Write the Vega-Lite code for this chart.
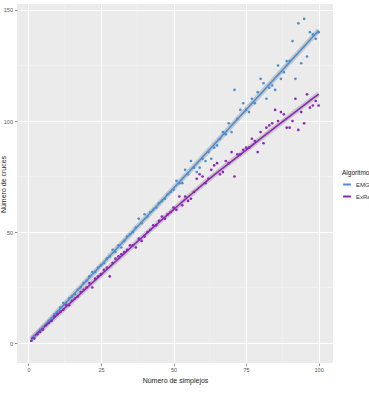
{
  "$schema": "https://vega.github.io/schema/vega-lite/v6.json",
  "width": 316,
  "height": 359,
  "autosize": "none",
  "padding": {"left": 17, "top": 4, "right": 36, "bottom": 31},
  "background": "white",
  "config": {
    "view": {"fill": "#ebebeb", "stroke": null},
    "font": "Liberation Sans",
    "axis": {
      "domain": false,
      "grid": true,
      "gridColor": "white",
      "gridWidth": 1,
      "tickColor": "#444444",
      "tickSize": 2.5,
      "tickWidth": 0.6,
      "labelColor": "#555555",
      "labelFontSize": 5.5,
      "labelPadding": 2,
      "titleFontSize": 7,
      "titleFontWeight": "normal",
      "titleColor": "#222222"
    },
    "legend": {
      "titleFontSize": 6.5,
      "titleFontWeight": "normal",
      "labelFontSize": 6,
      "titleColor": "#222222",
      "labelColor": "#333333"
    }
  },
  "datasets": {
    "pts": [
      {"n":1,"cruces":1,"alg":"EMG"},{"n":2,"cruces":3,"alg":"EMG"},{"n":3,"cruces":4,"alg":"EMG"},{"n":4,"cruces":6,"alg":"EMG"},{"n":5,"cruces":7,"alg":"EMG"},
      {"n":6,"cruces":8,"alg":"EMG"},{"n":7,"cruces":10,"alg":"EMG"},{"n":8,"cruces":11,"alg":"EMG"},{"n":9,"cruces":13,"alg":"EMG"},{"n":10,"cruces":14,"alg":"EMG"},
      {"n":11,"cruces":16,"alg":"EMG"},{"n":12,"cruces":18,"alg":"EMG"},{"n":13,"cruces":18,"alg":"EMG"},{"n":14,"cruces":20,"alg":"EMG"},{"n":15,"cruces":21,"alg":"EMG"},
      {"n":16,"cruces":22,"alg":"EMG"},{"n":17,"cruces":24,"alg":"EMG"},{"n":18,"cruces":25,"alg":"EMG"},{"n":19,"cruces":27,"alg":"EMG"},{"n":20,"cruces":28,"alg":"EMG"},
      {"n":21,"cruces":30,"alg":"EMG"},{"n":22,"cruces":32,"alg":"EMG"},{"n":23,"cruces":32,"alg":"EMG"},{"n":24,"cruces":34,"alg":"EMG"},{"n":25,"cruces":35,"alg":"EMG"},
      {"n":26,"cruces":36,"alg":"EMG"},{"n":27,"cruces":38,"alg":"EMG"},{"n":28,"cruces":39,"alg":"EMG"},{"n":29,"cruces":42,"alg":"EMG"},{"n":30,"cruces":41,"alg":"EMG"},
      {"n":31,"cruces":44,"alg":"EMG"},{"n":32,"cruces":43,"alg":"EMG"},{"n":33,"cruces":46,"alg":"EMG"},{"n":34,"cruces":48,"alg":"EMG"},{"n":35,"cruces":49,"alg":"EMG"},
      {"n":36,"cruces":50,"alg":"EMG"},{"n":37,"cruces":52,"alg":"EMG"},{"n":38,"cruces":56,"alg":"EMG"},{"n":39,"cruces":54,"alg":"EMG"},{"n":40,"cruces":58,"alg":"EMG"},
      {"n":41,"cruces":57,"alg":"EMG"},{"n":42,"cruces":59,"alg":"EMG"},{"n":43,"cruces":60,"alg":"EMG"},{"n":44,"cruces":61,"alg":"EMG"},{"n":45,"cruces":63,"alg":"EMG"},
      {"n":46,"cruces":64,"alg":"EMG"},{"n":47,"cruces":65,"alg":"EMG"},{"n":48,"cruces":67,"alg":"EMG"},{"n":49,"cruces":68,"alg":"EMG"},{"n":50,"cruces":69,"alg":"EMG"},
      {"n":51,"cruces":73,"alg":"EMG"},{"n":52,"cruces":72,"alg":"EMG"},{"n":53,"cruces":72,"alg":"EMG"},{"n":54,"cruces":78,"alg":"EMG"},{"n":55,"cruces":76,"alg":"EMG"},
      {"n":56,"cruces":82,"alg":"EMG"},{"n":57,"cruces":79,"alg":"EMG"},{"n":58,"cruces":77,"alg":"EMG"},{"n":59,"cruces":79,"alg":"EMG"},{"n":60,"cruces":83,"alg":"EMG"},
      {"n":61,"cruces":82,"alg":"EMG"},{"n":62,"cruces":86,"alg":"EMG"},{"n":63,"cruces":83,"alg":"EMG"},{"n":64,"cruces":88,"alg":"EMG"},{"n":65,"cruces":89,"alg":"EMG"},
      {"n":66,"cruces":92,"alg":"EMG"},{"n":67,"cruces":95,"alg":"EMG"},{"n":68,"cruces":94,"alg":"EMG"},{"n":69,"cruces":99,"alg":"EMG"},{"n":70,"cruces":95,"alg":"EMG"},
      {"n":71,"cruces":114,"alg":"EMG"},{"n":72,"cruces":101,"alg":"EMG"},{"n":73,"cruces":105,"alg":"EMG"},{"n":74,"cruces":108,"alg":"EMG"},{"n":75,"cruces":105,"alg":"EMG"},
      {"n":76,"cruces":104,"alg":"EMG"},{"n":77,"cruces":110,"alg":"EMG"},{"n":78,"cruces":108,"alg":"EMG"},{"n":79,"cruces":113,"alg":"EMG"},{"n":80,"cruces":119,"alg":"EMG"},
      {"n":81,"cruces":117,"alg":"EMG"},{"n":82,"cruces":110,"alg":"EMG"},{"n":83,"cruces":115,"alg":"EMG"},{"n":84,"cruces":116,"alg":"EMG"},{"n":85,"cruces":114,"alg":"EMG"},
      {"n":86,"cruces":125,"alg":"EMG"},{"n":87,"cruces":119,"alg":"EMG"},{"n":88,"cruces":122,"alg":"EMG"},{"n":89,"cruces":127,"alg":"EMG"},{"n":90,"cruces":127,"alg":"EMG"},
      {"n":91,"cruces":136,"alg":"EMG"},{"n":92,"cruces":119,"alg":"EMG"},{"n":93,"cruces":144,"alg":"EMG"},{"n":94,"cruces":126,"alg":"EMG"},{"n":95,"cruces":146,"alg":"EMG"},
      {"n":96,"cruces":129,"alg":"EMG"},{"n":97,"cruces":140,"alg":"EMG"},{"n":98,"cruces":139,"alg":"EMG"},{"n":99,"cruces":137,"alg":"EMG"},{"n":100,"cruces":140,"alg":"EMG"},
      {"n":1,"cruces":1,"alg":"ExRandom"},{"n":2,"cruces":2,"alg":"ExRandom"},{"n":3,"cruces":4,"alg":"ExRandom"},{"n":4,"cruces":5,"alg":"ExRandom"},{"n":5,"cruces":6,"alg":"ExRandom"},
      {"n":6,"cruces":8,"alg":"ExRandom"},{"n":7,"cruces":9,"alg":"ExRandom"},{"n":8,"cruces":10,"alg":"ExRandom"},{"n":9,"cruces":12,"alg":"ExRandom"},{"n":10,"cruces":13,"alg":"ExRandom"},
      {"n":11,"cruces":14,"alg":"ExRandom"},{"n":12,"cruces":15,"alg":"ExRandom"},{"n":13,"cruces":17,"alg":"ExRandom"},{"n":14,"cruces":17,"alg":"ExRandom"},{"n":15,"cruces":19,"alg":"ExRandom"},
      {"n":16,"cruces":20,"alg":"ExRandom"},{"n":17,"cruces":21,"alg":"ExRandom"},{"n":18,"cruces":23,"alg":"ExRandom"},{"n":19,"cruces":24,"alg":"ExRandom"},{"n":20,"cruces":25,"alg":"ExRandom"},
      {"n":21,"cruces":27,"alg":"ExRandom"},{"n":22,"cruces":25,"alg":"ExRandom"},{"n":23,"cruces":29,"alg":"ExRandom"},{"n":24,"cruces":30,"alg":"ExRandom"},{"n":25,"cruces":31,"alg":"ExRandom"},
      {"n":26,"cruces":33,"alg":"ExRandom"},{"n":27,"cruces":34,"alg":"ExRandom"},{"n":28,"cruces":30,"alg":"ExRandom"},{"n":29,"cruces":36,"alg":"ExRandom"},{"n":30,"cruces":38,"alg":"ExRandom"},
      {"n":31,"cruces":39,"alg":"ExRandom"},{"n":32,"cruces":40,"alg":"ExRandom"},{"n":33,"cruces":41,"alg":"ExRandom"},{"n":34,"cruces":42,"alg":"ExRandom"},{"n":35,"cruces":44,"alg":"ExRandom"},
      {"n":36,"cruces":44,"alg":"ExRandom"},{"n":37,"cruces":43,"alg":"ExRandom"},{"n":38,"cruces":47,"alg":"ExRandom"},{"n":39,"cruces":46,"alg":"ExRandom"},{"n":40,"cruces":48,"alg":"ExRandom"},
      {"n":41,"cruces":50,"alg":"ExRandom"},{"n":42,"cruces":51,"alg":"ExRandom"},{"n":43,"cruces":53,"alg":"ExRandom"},{"n":44,"cruces":53,"alg":"ExRandom"},{"n":45,"cruces":55,"alg":"ExRandom"},
      {"n":46,"cruces":57,"alg":"ExRandom"},{"n":47,"cruces":56,"alg":"ExRandom"},{"n":48,"cruces":58,"alg":"ExRandom"},{"n":49,"cruces":59,"alg":"ExRandom"},{"n":50,"cruces":61,"alg":"ExRandom"},
      {"n":51,"cruces":60,"alg":"ExRandom"},{"n":52,"cruces":66,"alg":"ExRandom"},{"n":53,"cruces":62,"alg":"ExRandom"},{"n":54,"cruces":66,"alg":"ExRandom"},{"n":55,"cruces":64,"alg":"ExRandom"},
      {"n":56,"cruces":65,"alg":"ExRandom"},{"n":57,"cruces":68,"alg":"ExRandom"},{"n":58,"cruces":74,"alg":"ExRandom"},{"n":59,"cruces":76,"alg":"ExRandom"},{"n":60,"cruces":75,"alg":"ExRandom"},
      {"n":61,"cruces":72,"alg":"ExRandom"},{"n":62,"cruces":74,"alg":"ExRandom"},{"n":63,"cruces":78,"alg":"ExRandom"},{"n":64,"cruces":80,"alg":"ExRandom"},{"n":65,"cruces":81,"alg":"ExRandom"},
      {"n":66,"cruces":76,"alg":"ExRandom"},{"n":67,"cruces":77,"alg":"ExRandom"},{"n":68,"cruces":82,"alg":"ExRandom"},{"n":69,"cruces":81,"alg":"ExRandom"},{"n":70,"cruces":86,"alg":"ExRandom"},
      {"n":71,"cruces":75,"alg":"ExRandom"},{"n":72,"cruces":85,"alg":"ExRandom"},{"n":73,"cruces":85,"alg":"ExRandom"},{"n":74,"cruces":87,"alg":"ExRandom"},{"n":75,"cruces":88,"alg":"ExRandom"},
      {"n":76,"cruces":88,"alg":"ExRandom"},{"n":77,"cruces":92,"alg":"ExRandom"},{"n":78,"cruces":91,"alg":"ExRandom"},{"n":79,"cruces":86,"alg":"ExRandom"},{"n":80,"cruces":95,"alg":"ExRandom"},
      {"n":81,"cruces":90,"alg":"ExRandom"},{"n":82,"cruces":97,"alg":"ExRandom"},{"n":83,"cruces":98,"alg":"ExRandom"},{"n":84,"cruces":99,"alg":"ExRandom"},{"n":85,"cruces":105,"alg":"ExRandom"},
      {"n":86,"cruces":100,"alg":"ExRandom"},{"n":87,"cruces":104,"alg":"ExRandom"},{"n":88,"cruces":103,"alg":"ExRandom"},{"n":89,"cruces":97,"alg":"ExRandom"},{"n":90,"cruces":97,"alg":"ExRandom"},
      {"n":91,"cruces":100,"alg":"ExRandom"},{"n":92,"cruces":110,"alg":"ExRandom"},{"n":93,"cruces":96,"alg":"ExRandom"},{"n":94,"cruces":104,"alg":"ExRandom"},{"n":95,"cruces":99,"alg":"ExRandom"},
      {"n":96,"cruces":112,"alg":"ExRandom"},{"n":97,"cruces":106,"alg":"ExRandom"},{"n":98,"cruces":107,"alg":"ExRandom"},{"n":99,"cruces":109,"alg":"ExRandom"},{"n":100,"cruces":107,"alg":"ExRandom"}
    ],
    "minorx": [{"v":12.5},{"v":37.5},{"v":62.5},{"v":87.5}],
    "minory": [{"v":25},{"v":75},{"v":125}]
  },
  "layer": [
    {
      "data": {"name": "minorx"},
      "mark": {"type": "rule", "color": "#f5f5f5", "strokeWidth": 0.5},
      "encoding": {"x": {"field": "v", "type": "quantitative", "scale": {"domain": [-3.95, 104.95], "nice": false, "zero": false}}}
    },
    {
      "data": {"name": "minory"},
      "mark": {"type": "rule", "color": "#f5f5f5", "strokeWidth": 0.5},
      "encoding": {"y": {"field": "v", "type": "quantitative", "scale": {"domain": [-9, 152.7], "nice": false, "zero": false}}}
    },
    {
      "data": {"name": "pts"},
      "transform": [{"loess": "cruces", "on": "n", "groupby": ["alg"], "bandwidth": 0.75}],
      "mark": {"type": "line", "color": "#9a9a9a", "strokeWidth": 5, "opacity": 0.45},
      "encoding": {
        "x": {"field": "n", "type": "quantitative"},
        "y": {"field": "cruces", "type": "quantitative"},
        "detail": {"field": "alg"}
      }
    },
    {
      "data": {"name": "pts"},
      "transform": [{"loess": "cruces", "on": "n", "groupby": ["alg"], "bandwidth": 0.75}],
      "mark": {"type": "line", "strokeWidth": 1.6},
      "encoding": {
        "x": {"field": "n", "type": "quantitative"},
        "y": {"field": "cruces", "type": "quantitative"},
        "color": {
          "field": "alg", "type": "nominal",
          "scale": {"domain": ["EMG", "ExRandom"], "range": ["#4a8fd6", "#8e24b8"]},
          "legend": {"title": "Algoritmo", "orient": "none", "legendX": 325, "legendY": 166, "symbolType": "stroke", "symbolStrokeWidth": 2, "symbolSize": 60, "rowPadding": 3, "titlePadding": 3}
        }
      }
    },
    {
      "data": {"name": "pts"},
      "mark": {"type": "circle", "size": 7, "opacity": 1},
      "encoding": {
        "x": {"field": "n", "type": "quantitative", "title": "Número de simplejos", "axis": {"values": [0, 25, 50, 75, 100], "titlePadding": 3}},
        "y": {"field": "cruces", "type": "quantitative", "title": "Número de cruces", "axis": {"values": [0, 50, 100, 150], "titleX": -11, "titleY": 180, "titleAngle": -90, "titleBaseline": "bottom", "titleAnchor": "middle", "titleAlign": "center"}},
        "color": {"field": "alg", "type": "nominal"}
      }
    }
  ]
}
